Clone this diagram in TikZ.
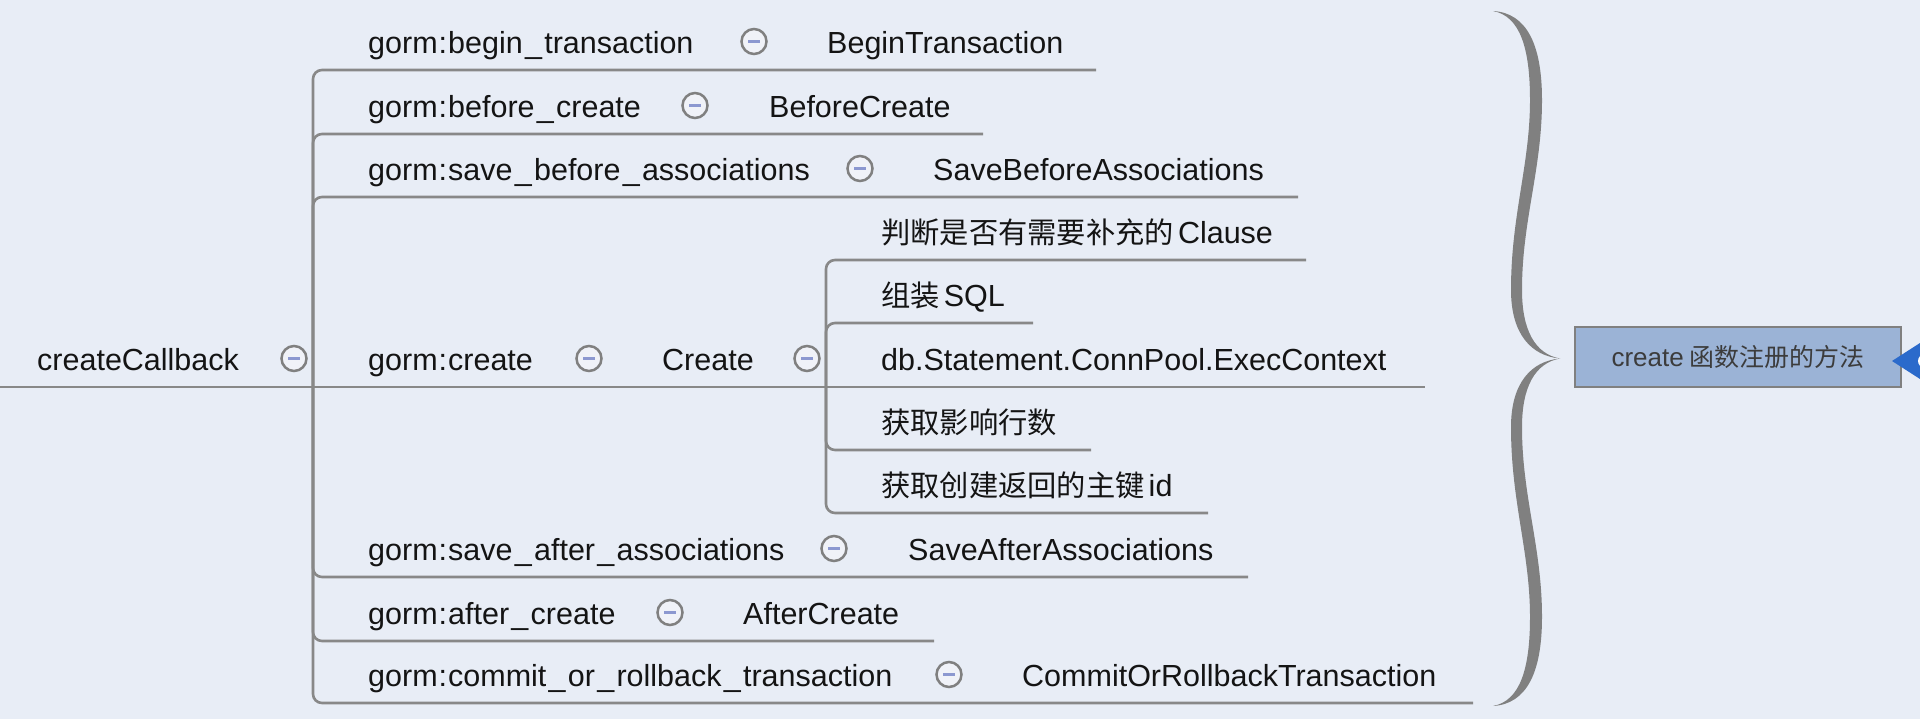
\documentclass[tikz,border=0pt]{standalone}
\usepackage{fontspec}
\setmainfont{Liberation Sans}
\newfontfamily\cjk[Scale=0.96]{Noto Sans CJK SC}
\newcommand\us{\makebox[21.5pt][c]{\_}}
\newcommand\cln{\makebox[10.5pt][c]{:}}
\definecolor{bg}{RGB}{232,237,246}
\definecolor{linegray}{RGB}{136,136,136}
\definecolor{bracegray}{RGB}{128,128,128}
\definecolor{foldgray}{RGB}{128,128,128}
\definecolor{foldfill}{RGB}{240,242,248}
\definecolor{minusc}{RGB}{140,152,208}
\definecolor{txt}{RGB}{20,20,20}
\definecolor{boxfill}{RGB}{155,179,214}
\definecolor{boxborder}{RGB}{128,128,128}
\definecolor{boxtext}{RGB}{60,60,60}
\definecolor{markblue}{RGB}{43,106,203}
\begin{document}
\begin{tikzpicture}[x=1pt,y=-1pt,
  lbl/.style={anchor=base west, inner sep=0pt, font=\fontsize{30.5}{36}\selectfont, text=txt},
  fold/.style={circle, draw=foldgray, fill=foldfill, line width=2.5pt, minimum size=25pt, inner sep=0pt,
    path picture={\draw[draw=minusc, line width=3pt] ([xshift=-6pt]path picture bounding box.center) -- ([xshift=6pt]path picture bounding box.center);}},
  branch/.style={draw=linegray, line width=2.6pt, rounded corners=9pt},
  regbox/.style={draw=boxborder, fill=boxfill, line width=2.5pt, minimum width=326pt, minimum height=60pt,
    inner sep=0pt, font=\fontsize{26}{30}\selectfont, text=boxtext}
]
\useasboundingbox (0,0) rectangle (1920,719);
\fill[bg] (0,0) rectangle (1920,719);

% junction coordinates
\coordinate (rs) at (0,387);
\coordinate (T) at (313,387);
\coordinate (S) at (826,387);
\coordinate (e1) at (1096,70);
\coordinate (e2) at (983,134);
\coordinate (e3) at (1298,197);
\coordinate (e5) at (1248,577);
\coordinate (e6) at (934,641);
\coordinate (e7) at (1473,703);
\coordinate (ea) at (1306,260);
\coordinate (eb) at (1033,323);
\coordinate (ec) at (1425,387);
\coordinate (ed) at (1091,450);
\coordinate (ee) at (1208,513);

% connectors
\draw[branch] (rs) -- (T);
\draw[branch] (T) |- (e1);
\draw[branch] (T) |- (e2);
\draw[branch] (T) |- (e3);
\draw[branch] (T) -- (S);
\draw[branch] (T) |- (e5);
\draw[branch] (T) |- (e6);
\draw[branch] (T) |- (e7);
\draw[branch] (S) |- (ea);
\draw[branch] (S) |- (eb);
\draw[branch] (S) -- (ec);
\draw[branch] (S) |- (ed);
\draw[branch] (S) |- (ee);

% root
\node[lbl] (root) at (37,370.5) {createCallback};
\node[fold] (f0) at (294,358.5) {};

% children
\node[lbl] (k1) at (368,53.5) {gorm\cln begin\us transaction};
\node[fold] (f1) at (754,41.5) {};
\node[lbl] (v1) at (827,53.5) {BeginTransaction};

\node[lbl] (k2) at (368,117.5) {gorm\cln before\us create};
\node[fold] (f2) at (695,105.5) {};
\node[lbl] (v2) at (769,117.5) {BeforeCreate};

\node[lbl] (k3) at (368,180.5) {gorm\cln save\us before\us associations};
\node[fold] (f3) at (860,168.5) {};
\node[lbl] (v3) at (933,180.5) {SaveBeforeAssociations};

\node[lbl] (k4) at (368,370.5) {gorm\cln create};
\node[fold] (f4) at (589,358.5) {};
\node[lbl] (v4) at (662,370.5) {Create};
\node[fold] (f4b) at (807,358.5) {};

\node[lbl] (sa) at (881,243.5) {{\cjk 判断是否有需要补充的}\hspace{4pt}Clause};
\node[lbl] (sb) at (881,306.5) {{\cjk 组装}\hspace{4pt}SQL};
\node[lbl] (sc) at (881,370.5) {db.Statement.ConnPool.ExecContext};
\node[lbl] (sd) at (881,433.5) {{\cjk 获取影响行数}};
\node[lbl] (se) at (881,496.5) {{\cjk 获取创建返回的主键}\hspace{4pt}id};

\node[lbl] (k5) at (368,560.5) {gorm\cln save\us after\us associations};
\node[fold] (f5) at (834,548.5) {};
\node[lbl] (v5) at (908,560.5) {SaveAfterAssociations};

\node[lbl] (k6) at (368,624.5) {gorm\cln after\us create};
\node[fold] (f6) at (670,612.5) {};
\node[lbl] (v6) at (743,624.5) {AfterCreate};

\node[lbl] (k7) at (368,686.5) {gorm\cln commit\us or\us rollback\us transaction};
\node[fold] (f7) at (949,674.5) {};
\node[lbl] (v7) at (1022,686.5) {CommitOrRollbackTransaction};

% brace
\fill[bracegray] (1493,11) .. controls (1527,13) and (1542,45) .. (1542,100)
  .. controls (1542,170) and (1522,220) .. (1522,290)
  .. controls (1522,330) and (1535,354) .. (1560,358.5)
  .. controls (1532,356) and (1511,335) .. (1511,290)
  .. controls (1511,215) and (1530,165) .. (1530,100)
  .. controls (1530,48) and (1520,16) .. (1493,11) -- cycle;
\begin{scope}[shift={(0,717)}, yscale=-1]
\fill[bracegray] (1493,11) .. controls (1527,13) and (1542,45) .. (1542,100)
  .. controls (1542,170) and (1522,220) .. (1522,290)
  .. controls (1522,330) and (1535,354) .. (1560,358.5)
  .. controls (1532,356) and (1511,335) .. (1511,290)
  .. controls (1511,215) and (1530,165) .. (1530,100)
  .. controls (1530,48) and (1520,16) .. (1493,11) -- cycle;
\end{scope}

% summary box
\node[regbox] (reg) at (1738,357) {create\hspace{6pt}{\cjk 函数注册的方法}};

% blue marker at right edge
\coordinate (mt) at (1892,361);
\fill[markblue] (mt) -- (1920,343) -- (1920,379) -- cycle;
\fill[white] (1925,361) circle (7);
\end{tikzpicture}
\end{document}
